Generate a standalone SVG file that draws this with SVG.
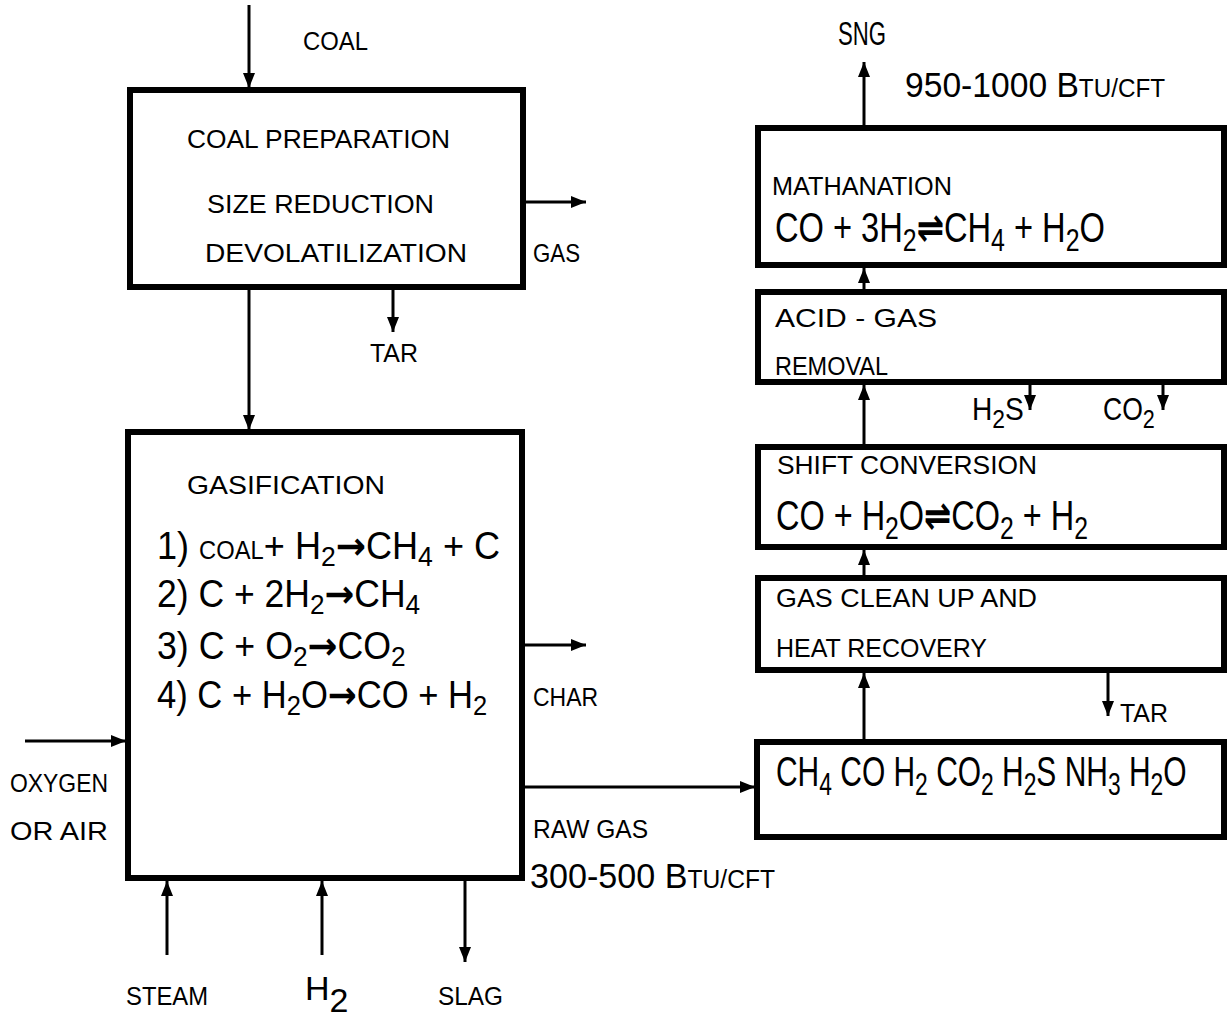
<svg xmlns="http://www.w3.org/2000/svg" width="1228" height="1024" viewBox="0 0 1228 1024">
<defs>
<style>
.box{fill:#fff;stroke:#000;stroke-width:6}
.ln{stroke:#000;stroke-width:3;fill:none;marker-end:url(#ah)}
text{font-family:"Liberation Sans","DejaVu Sans",sans-serif;fill:#000}
.lb{font-size:25px}
.eq{font-size:42px}
.eg{font-size:38px}
.sm{font-size:25px}
.sb{font-size:32px}
.sg{font-size:28px}
.ar{font-family:"DejaVu Sans",sans-serif;font-weight:bold}
</style>
<marker id="ah" markerUnits="userSpaceOnUse" markerWidth="16" markerHeight="12" refX="15" refY="6" orient="auto">
<path d="M0,0 L15,6 L0,12 z" fill="#000"/>
</marker>
</defs>
<rect width="1228" height="1024" fill="#fff"/>

<g id="connectors">
<line class="ln" x1="249" y1="5" x2="249" y2="88"/>
<line class="ln" x1="249" y1="290" x2="249" y2="430"/>
<line class="ln" x1="526" y1="202" x2="586" y2="202"/>
<line class="ln" x1="393" y1="290" x2="393" y2="332"/>
<line class="ln" x1="25" y1="741" x2="126" y2="741"/>
<line class="ln" x1="525" y1="645" x2="586" y2="645"/>
<line class="ln" x1="525" y1="787" x2="755" y2="787"/>
<line class="ln" x1="167" y1="955" x2="167" y2="881"/>
<line class="ln" x1="322" y1="955" x2="322" y2="881"/>
<line class="ln" x1="465" y1="881" x2="465" y2="962"/>
<line class="ln" x1="864" y1="125" x2="864" y2="62"/>
<line class="ln" x1="864" y1="289" x2="864" y2="268"/>
<line class="ln" x1="864" y1="444" x2="864" y2="385"/>
<line class="ln" x1="864" y1="575" x2="864" y2="550"/>
<line class="ln" x1="864" y1="739" x2="864" y2="673"/>
<line class="ln" x1="1030" y1="385" x2="1030" y2="410"/>
<line class="ln" x1="1163" y1="385" x2="1163" y2="410"/>
<line class="ln" x1="1108" y1="673" x2="1108" y2="716"/>
</g>

<g id="coal-prep">
<rect class="box" x="130" y="90" width="393" height="197"/>
<text class="lb" x="187" y="148" textLength="263" lengthAdjust="spacingAndGlyphs">COAL PREPARATION</text>
<text class="lb" x="207" y="213" textLength="227" lengthAdjust="spacingAndGlyphs">SIZE REDUCTION</text>
<text class="lb" x="205" y="262" textLength="262" lengthAdjust="spacingAndGlyphs">DEVOLATILIZATION</text>
</g>

<g id="gasification">
<rect class="box" x="128" y="432" width="394" height="446"/>
<text class="lb" x="187" y="494" textLength="198" lengthAdjust="spacingAndGlyphs">GASIFICATION</text>
<text class="eg" transform="translate(157,559) scale(0.95,1)">1) <tspan class="sm">COAL</tspan>+ H<tspan class="sg" dy="7">2</tspan><tspan class="ar" dy="-7">→</tspan>CH<tspan class="sg" dy="7">4</tspan><tspan dy="-7"> + C</tspan></text>
<text class="eg" transform="translate(157,607) scale(0.935,1)">2) C + 2H<tspan class="sg" dy="7">2</tspan><tspan class="ar" dy="-7">→</tspan>CH<tspan class="sg" dy="7">4</tspan></text>
<text class="eg" transform="translate(157,659) scale(0.94,1)">3) C + O<tspan class="sg" dy="7">2</tspan><tspan class="ar" dy="-7">→</tspan>CO<tspan class="sg" dy="7">2</tspan></text>
<text class="eg" transform="translate(157,708) scale(0.91,1)">4) C + H<tspan class="sg" dy="7">2</tspan><tspan dy="-7">O</tspan><tspan class="ar">→</tspan>CO + H<tspan class="sg" dy="7">2</tspan></text>
</g>

<g id="methanation">
<rect class="box" x="758" y="128" width="466" height="137"/>
<text class="lb" x="772" y="195" textLength="180" lengthAdjust="spacingAndGlyphs">MATHANATION</text>
<text class="eq" transform="translate(775,242) scale(0.777,1)">CO + 3H<tspan class="sb" dy="9">2</tspan><tspan class="ar" dy="-9">⇌</tspan>CH<tspan class="sb" dy="9">4</tspan><tspan dy="-9"> + H</tspan><tspan class="sb" dy="9">2</tspan><tspan dy="-9">O</tspan></text>
</g>

<g id="acid-gas">
<rect class="box" x="758" y="292" width="466" height="90"/>
<text class="lb" x="775" y="327" textLength="162" lengthAdjust="spacingAndGlyphs">ACID - GAS</text>
<text class="lb" x="775" y="375" textLength="113" lengthAdjust="spacingAndGlyphs">REMOVAL</text>
</g>

<g id="shift">
<rect class="box" x="758" y="447" width="466" height="100"/>
<text class="lb" x="777" y="474" textLength="260" lengthAdjust="spacingAndGlyphs">SHIFT CONVERSION</text>
<text class="eq" transform="translate(776,530) scale(0.773,1)">CO + H<tspan class="sb" dy="9">2</tspan><tspan dy="-9">O</tspan><tspan class="ar">⇌</tspan>CO<tspan class="sb" dy="9">2</tspan><tspan dy="-9"> + H</tspan><tspan class="sb" dy="9">2</tspan></text>
</g>

<g id="cleanup">
<rect class="box" x="758" y="578" width="466" height="92"/>
<text class="lb" x="776" y="607" textLength="261" lengthAdjust="spacingAndGlyphs">GAS CLEAN UP AND</text>
<text class="lb" x="776" y="657" textLength="211" lengthAdjust="spacingAndGlyphs">HEAT RECOVERY</text>
</g>

<g id="raw-gas-box">
<rect class="box" x="757" y="742" width="467" height="95"/>
<text class="eq" transform="translate(776,786) scale(0.713,1)">CH<tspan class="sb" dy="9">4</tspan><tspan dy="-9"> CO H</tspan><tspan class="sb" dy="9">2</tspan><tspan dy="-9"> CO</tspan><tspan class="sb" dy="9">2</tspan><tspan dy="-9"> H</tspan><tspan class="sb" dy="9">2</tspan><tspan dy="-9">S NH</tspan><tspan class="sb" dy="9">3</tspan><tspan dy="-9"> H</tspan><tspan class="sb" dy="9">2</tspan><tspan dy="-9">O</tspan></text>
</g>

<g id="labels">
<text class="lb" x="303" y="50" textLength="65" lengthAdjust="spacingAndGlyphs">COAL</text>
<text class="lb" x="533" y="262" textLength="47" lengthAdjust="spacingAndGlyphs">GAS</text>
<text class="lb" x="370" y="362" textLength="48" lengthAdjust="spacingAndGlyphs">TAR</text>
<text class="lb" x="533" y="706" textLength="65" lengthAdjust="spacingAndGlyphs">CHAR</text>
<text class="lb" x="10" y="792" textLength="98" lengthAdjust="spacingAndGlyphs">OXYGEN</text>
<text class="lb" x="10" y="840" textLength="98" lengthAdjust="spacingAndGlyphs">OR AIR</text>
<text class="lb" x="533" y="838" textLength="115" lengthAdjust="spacingAndGlyphs">RAW GAS</text>
<text font-size="36" transform="translate(530,888) scale(0.948,1)">300-500 B<tspan font-size="26">TU/CFT</tspan></text>
<text class="lb" x="126" y="1005" textLength="82" lengthAdjust="spacingAndGlyphs">STEAM</text>
<text x="305" y="1000" font-size="34">H<tspan dy="12">2</tspan></text>
<text class="lb" x="438" y="1005" textLength="65" lengthAdjust="spacingAndGlyphs">SLAG</text>
<text x="838" y="45" font-size="34" textLength="48" lengthAdjust="spacingAndGlyphs">SNG</text>
<text font-size="36" transform="translate(905,97) scale(0.934,1)">950-1000 B<tspan font-size="26">TU/CFT</tspan></text>
<text font-size="32" transform="translate(972,420) scale(0.88,1)">H<tspan font-size="26" dy="8">2</tspan><tspan dy="-8">S</tspan></text>
<text font-size="32" transform="translate(1103,420) scale(0.83,1)">CO<tspan font-size="26" dy="8">2</tspan></text>
<text class="lb" x="1120" y="722" textLength="48" lengthAdjust="spacingAndGlyphs">TAR</text>
</g>
</svg>
